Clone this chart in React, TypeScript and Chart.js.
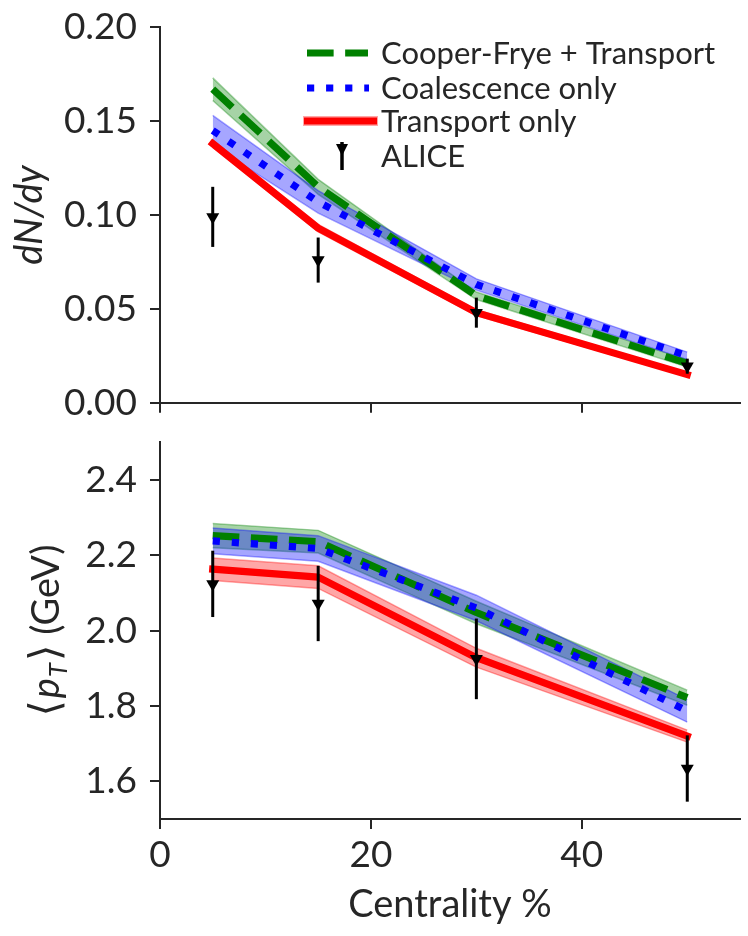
import { useEffect, useRef } from 'react';
import Chart from 'chart.js/auto';

// centrality bins (%)
const centrality = [5, 15, 30, 50];
const xTicks = [0, 20, 40];

// top panel: dN/dy
const dndyTicks = [0, 0.05, 0.1, 0.15, 0.2];
const dndyCooperFrye = [0.167, 0.115, 0.057, 0.021];
const dndyCooperFryeBand = [0.006, 0.004, 0.002, 0.002];
const dndyCoalescence = [0.145, 0.107, 0.063, 0.025];
const dndyCoalescenceBand = [0.008, 0.006, 0.003, 0.002];
const dndyTransport = [0.138, 0.093, 0.048, 0.015];
const dndyTransportBand = [0.002, 0.002, 0.0015, 0.001];
const dndyAlice = [0.099, 0.076, 0.048, 0.0195];
const dndyAliceErr = [0.016, 0.012, 0.008, 0.004];

// bottom panel: <pT>
const ptTicks = [1.6, 1.8, 2.0, 2.2, 2.4];
const ptCooperFrye = [2.252, 2.236, 2.048, 1.822];
const ptCooperFryeBand = [0.032, 0.03, 0.03, 0.02];
const ptCoalescence = [2.238, 2.218, 2.06, 1.787];
const ptCoalescenceBand = [0.034, 0.034, 0.034, 0.03];
const ptTransport = [2.163, 2.142, 1.928, 1.72];
const ptTransportBand = [0.03, 0.03, 0.025, 0.016];
const ptAlice = [2.124, 2.072, 1.925, 1.634];
const ptAliceErr = [0.088, 0.1, 0.107, 0.088];

const legendLabels = ['Cooper-Frye + Transport', 'Coalescence only', 'Transport only', 'ALICE'];

const ink = '#262626';
const LW = 7.2;
const TICK_FONT = 37;

Chart.defaults.font.family = 'Lato';
Chart.defaults.color = ink;

const pts = (ys: number[]) => centrality.map((x, i) => ({ x, y: ys[i] }));
const shift = (ys: number[], hw: number[], s: number) => ys.map((v, i) => v + s * hw[i]);

function band(ys: number[], hw: number[], rgb: string, order: number) {
  const c = `rgba(${rgb},0.35)`;
  return [
    { data: pts(shift(ys, hw, -1)), borderColor: c, borderWidth: 1.5, pointRadius: 0, fill: false, order },
    { data: pts(shift(ys, hw, 1)), borderColor: c, borderWidth: 1.5, pointRadius: 0, fill: '-1', backgroundColor: c, order },
  ];
}

function curve(ys: number[], color: string, dash: number[], cap: CanvasLineCap, order: number) {
  return {
    data: pts(ys), borderColor: color, borderWidth: LW, borderDash: dash, borderCapStyle: cap,
    borderJoinStyle: 'round', pointRadius: 0, fill: false, order,
  };
}

function errBars(vals: number[], errs: number[]) {
  return {
    id: 'errBars',
    afterDatasetsDraw(chart: any) {
      const { ctx, scales } = chart;
      ctx.save();
      ctx.strokeStyle = '#000';
      ctx.lineWidth = 3;
      centrality.forEach((x, i) => {
        const px = scales.x.getPixelForValue(x);
        ctx.beginPath();
        ctx.moveTo(px, scales.y.getPixelForValue(vals[i] + errs[i]));
        ctx.lineTo(px, scales.y.getPixelForValue(vals[i] - errs[i]));
        ctx.stroke();
      });
      ctx.restore();
    },
  };
}

// top canvas starts 8px above the page, so page y = canvas y - 8
const legendPlugin = {
  id: 'legendBox',
  afterDraw(chart: any) {
    const ctx = chart.ctx;
    const rows = [53, 88, 121, 156].map((r) => r + 8);
    ctx.save();
    ctx.lineWidth = LW;
    // Cooper-Frye
    ctx.strokeStyle = 'green';
    ctx.lineCap = 'butt';
    ctx.setLineDash([3.7 * LW, 1.6 * LW]);
    ctx.beginPath(); ctx.moveTo(307, rows[0]); ctx.lineTo(368, rows[0]); ctx.stroke();
    // Coalescence
    ctx.strokeStyle = 'blue';
    ctx.setLineDash([LW, 1.65 * LW]);
    ctx.beginPath(); ctx.moveTo(307, rows[1]); ctx.lineTo(369, rows[1]); ctx.stroke();
    // Transport
    ctx.setLineDash([]);
    ctx.fillStyle = 'rgba(255,0,0,0.35)';
    ctx.fillRect(303, rows[2] - 5, 75, 10);
    ctx.strokeStyle = 'red';
    ctx.beginPath(); ctx.moveTo(304, rows[2]); ctx.lineTo(377, rows[2]); ctx.stroke();
    // ALICE
    ctx.strokeStyle = '#000';
    ctx.lineWidth = 3.5;
    ctx.beginPath(); ctx.moveTo(342, rows[3] - 14); ctx.lineTo(342, rows[3] + 14); ctx.stroke();
    ctx.fillStyle = '#000';
    ctx.beginPath();
    ctx.moveTo(336, rows[3] - 12); ctx.lineTo(348, rows[3] - 12); ctx.lineTo(342, rows[3]); ctx.closePath();
    ctx.fill();
    // labels
    ctx.font = '31px Lato';
    ctx.fillStyle = ink;
    ctx.textBaseline = 'middle';
    ctx.textAlign = 'left';
    legendLabels.forEach((t, i) => ctx.fillText(t, 381, rows[i] + 1));
    ctx.restore();
  },
};

const ptTitlePlugin = {
  id: 'ptTitle',
  afterDraw(chart: any) {
    const ctx = chart.ctx;
    const cy = (chart.chartArea.top + chart.chartArea.bottom) / 2;
    const parts = [
      { t: '\u27E8', f: '42px "DejaVu Sans"', dy: 0, gap: 2 },
      { t: 'p', f: 'italic 38px Lato', dy: 0, gap: 1 },
      { t: 'T', f: 'italic 26px Lato', dy: 8, gap: 2 },
      { t: '\u27E9', f: '42px "DejaVu Sans"', dy: 0, gap: 0 },
      { t: ' (GeV)', f: '38px Lato', dy: 0, gap: 0 },
    ];
    ctx.save();
    let total = 0;
    const widths = parts.map((p) => { ctx.font = p.f; const w = ctx.measureText(p.t).width + p.gap; total += w; return w; });
    ctx.translate(59, cy);
    ctx.rotate(-Math.PI / 2);
    ctx.fillStyle = ink;
    ctx.textBaseline = 'alphabetic';
    ctx.textAlign = 'left';
    let x = -total / 2;
    parts.forEach((p, i) => { ctx.font = p.f; ctx.fillText(p.t, x, p.dy); x += widths[i]; });
    ctx.restore();
  },
};

function xScale(showLabels: boolean) {
  return {
    type: 'linear', min: 0, max: 55,
    afterBuildTicks: (s: any) => { s.ticks = xTicks.map((v) => ({ value: v })); },
    afterFit: (s: any) => { s.height = showLabels ? 117 : 34; },
    grid: { drawOnChartArea: false, drawTicks: true, tickLength: 10, color: ink, lineWidth: 2 },
    border: { display: true, color: ink, width: 2 },
    ticks: { display: showLabels, font: { size: TICK_FONT }, color: ink, padding: 4 },
    title: { display: showLabels, text: 'Centrality %', font: { size: 38 }, color: ink, padding: { top: 0, bottom: 8 } },
  };
}

function yScale(min: number, max: number, ticks: number[], digits: number, title?: string) {
  return {
    type: 'linear', min, max,
    afterBuildTicks: (s: any) => { s.ticks = ticks.map((v) => ({ value: v })); },
    afterFit: (s: any) => { s.width = 160; },
    grid: { drawOnChartArea: false, drawTicks: true, tickLength: 10, color: ink, lineWidth: 2 },
    border: { display: true, color: ink, width: 2 },
    ticks: { font: { size: TICK_FONT }, color: ink, padding: 13, callback: (v: any) => Number(v).toFixed(digits) },
    title: title
      ? { display: true, text: title, font: { size: 38, style: 'italic' }, color: ink, padding: { top: 7, bottom: 0 } }
      : { display: false },
  };
}

function panelConfig(p: {
  cf: number[]; cfB: number[]; co: number[]; coB: number[]; tr: number[]; trB: number[];
  al: number[]; alE: number[]; ymin: number; ymax: number; ticks: number[]; digits: number;
  title?: string; bottom: boolean; plugins: any[];
}): any {
  return {
    type: 'line',
    data: {
      datasets: [
        ...band(p.cf, p.cfB, '0,128,0', 6),
        ...band(p.co, p.coB, '0,0,255', 5),
        ...band(p.tr, p.trB, '255,0,0', 4),
        curve(p.cf, 'green', [3.7 * LW, 1.6 * LW], 'butt', 3),
        curve(p.co, 'blue', [LW, 1.65 * LW], 'butt', 2),
        curve(p.tr, 'red', [], 'square', 1),
        {
          data: pts(p.al), showLine: false, pointStyle: 'triangle', rotation: 180, pointRadius: 7.5,
          pointBackgroundColor: '#000', pointBorderColor: '#000', pointBorderWidth: 0, order: 0,
        },
      ],
    },
    options: {
      animation: false,
      responsive: false,
      maintainAspectRatio: false,
      layout: { padding: { top: 0, right: 8, left: 0, bottom: 0 } },
      plugins: { legend: { display: false }, tooltip: { enabled: false } },
      scales: {
        x: xScale(p.bottom),
        y: yScale(p.ymin, p.ymax, p.ticks, p.digits, p.title),
      },
    },
    plugins: [errBars(p.al, p.alE), ...p.plugins],
  };
}

export default function App() {
  const topRef = useRef<HTMLCanvasElement | null>(null);
  const botRef = useRef<HTMLCanvasElement | null>(null);

  useEffect(() => {
    if (!topRef.current || !botRef.current) return;
    const top = new Chart(topRef.current, panelConfig({
      cf: dndyCooperFrye, cfB: dndyCooperFryeBand, co: dndyCoalescence, coB: dndyCoalescenceBand,
      tr: dndyTransport, trB: dndyTransportBand, al: dndyAlice, alE: dndyAliceErr,
      ymin: 0, ymax: 0.2, ticks: dndyTicks, digits: 2, title: 'dN/dy', bottom: false,
      plugins: [legendPlugin],
    }));
    const bot = new Chart(botRef.current, panelConfig({
      cf: ptCooperFrye, cfB: ptCooperFryeBand, co: ptCoalescence, coB: ptCoalescenceBand,
      tr: ptTransport, trB: ptTransportBand, al: ptAlice, alE: ptAliceErr,
      ymin: 1.5, ymax: 2.5, ticks: ptTicks, digits: 1, bottom: true,
      plugins: [ptTitlePlugin],
    }));
    return () => {
      top.destroy();
      bot.destroy();
    };
  }, []);

  return (
    <div style={{ position: 'absolute', left: 0, top: 0, width: 748, height: 936, background: '#fff', overflow: 'hidden' }}>
      <canvas ref={topRef} width={748} height={446} style={{ position: 'absolute', left: 0, top: -8, width: 748, height: 446 }} />
      <canvas ref={botRef} width={748} height={529} style={{ position: 'absolute', left: 0, top: 407, width: 748, height: 529 }} />
    </div>
  );
}
